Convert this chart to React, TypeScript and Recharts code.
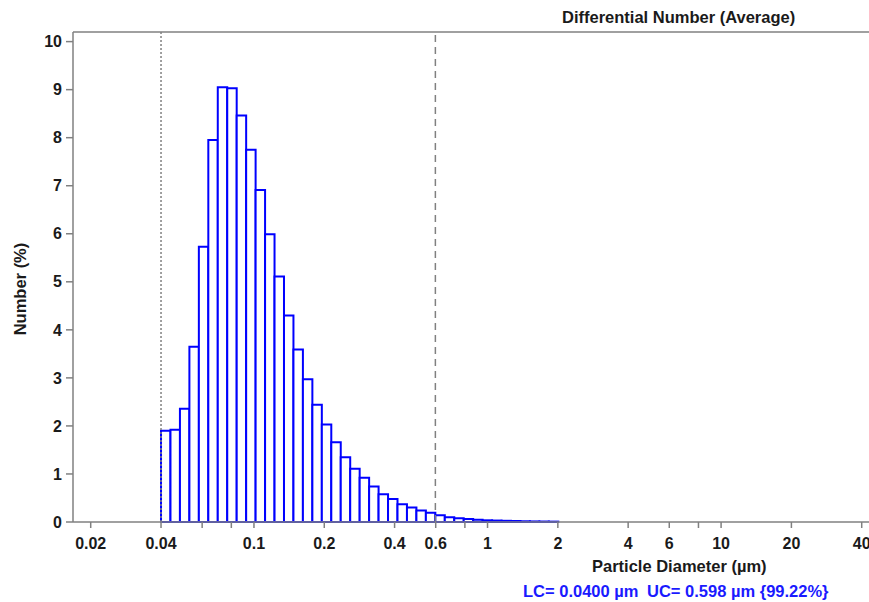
import React from 'react';
import {
  ComposedChart,
  Line,
  XAxis,
  YAxis,
  ReferenceArea,
  ReferenceLine,
} from 'recharts';

// --- Differential number distribution (%), one value per log-spaced size bin ---
const numberPct = [
  1.9, 1.92, 2.36, 3.65, 5.73, 7.95, 9.05, 9.03, 8.46, 7.75,
  6.91, 5.99, 5.11, 4.3, 3.59, 2.97, 2.44, 2.03, 1.66, 1.35,
  1.11, 0.92, 0.74, 0.58, 0.48, 0.37, 0.3, 0.24, 0.19, 0.14,
  0.1, 0.08, 0.06, 0.045, 0.035, 0.03, 0.025, 0.02, 0.015, 0.012,
  0.01, 0.008,
];

// bins start at the lower cut and step evenly in log10 (decades per bin)
const binStart = 0.04;
const binStepDecades = 0.0405;
const binEdges = Array.from({ length: numberPct.length + 1 }, (_, i) =>
  binStart * Math.pow(10, i * binStepDecades)
);

const rows = numberPct.map((v, i) => ({
  d: Math.sqrt(binEdges[i] * binEdges[i + 1]),
  lo: binEdges[i],
  hi: binEdges[i + 1],
  value: v,
}));

const xTicks = [0.02, 0.04, 0.06, 0.08, 0.1, 0.2, 0.4, 0.6, 0.8, 1, 2, 4, 6, 8, 10, 20, 40];
const xUnlabeled = [0.06, 0.08, 0.8, 8];
const yTicks = [0, 1, 2, 3, 4, 5, 6, 7, 8, 9, 10];

const LC = 0.04;
const UC = 0.598;

const FONT = '"Liberation Sans", Arial, sans-serif';
const AXIS = '#808080';
const BLUE = '#0000ff';
const Y_MAX = 10.2;

const tickStyle = { fontSize: 16, fontWeight: 700, fill: '#1a1a1a', fontFamily: FONT };

export default function App() {
  return (
    <div style={{ position: 'absolute', left: 0, top: 0, width: 869, height: 602, background: '#fff' }}>
      <ComposedChart
        width={869}
        height={602}
        data={rows}
        margin={{ top: 32, right: 0, left: 0, bottom: 0 }}
      >
        <XAxis
          dataKey="d"
          type="number"
          scale="log"
          domain={[0.016796, 42.98]}
          allowDataOverflow
          ticks={xTicks}
          interval={0}
          height={80}
          stroke={AXIS}
          strokeWidth={1.5}
          tickSize={6}
          tickMargin={10}
          tick={tickStyle}
          tickFormatter={(v) => (xUnlabeled.includes(v) ? '' : String(v))}
        />
        <YAxis
          type="number"
          domain={[0, Y_MAX]}
          ticks={yTicks}
          interval={0}
          width={73}
          stroke={AXIS}
          strokeWidth={1.5}
          tickSize={7}
          tickMargin={4}
          tick={tickStyle}
        />
        <ReferenceLine y={Y_MAX} stroke={AXIS} strokeWidth={1.5} />
        {rows.map((r, i) => (
          <ReferenceArea
            key={`bin-${i}`}
            x1={r.lo}
            x2={r.hi}
            y1={0}
            y2={r.value}
            fill="#ffffff"
            fillOpacity={1}
            stroke={BLUE}
            strokeWidth={2}
          />
        ))}
        <ReferenceLine x={LC} stroke="#808080" strokeWidth={1.5} strokeDasharray="2 2" />
        <ReferenceLine x={UC} stroke="#808080" strokeWidth={1.5} strokeDasharray="7 5" />
        <Line
          dataKey="value"
          stroke="none"
          dot={false}
          activeDot={false}
          isAnimationActive={false}
        />
      </ComposedChart>
      <svg
        width={869}
        height={602}
        style={{ position: 'absolute', left: 0, top: 0, pointerEvents: 'none' }}
      >
        <g fontFamily={FONT} fontWeight={700} fontSize={16.5}>
          <text x={562} y={22.5} fill="#1a1a1a">Differential Number (Average)</text>
          <text x={0} y={0} fill="#1a1a1a" textAnchor="middle" transform="translate(26 289) rotate(-90)">
            Number (%)
          </text>
          <text x={592} y={571.5} fill="#1a1a1a">Particle Diameter (µm)</text>
          <text x={523} y={597} fill="#1a1aff">LC= 0.0400 µm</text>
          <text x={647} y={597} fill="#1a1aff">UC= 0.598 µm {'{'}99.22%{'}'}</text>
        </g>
      </svg>
    </div>
  );
}
